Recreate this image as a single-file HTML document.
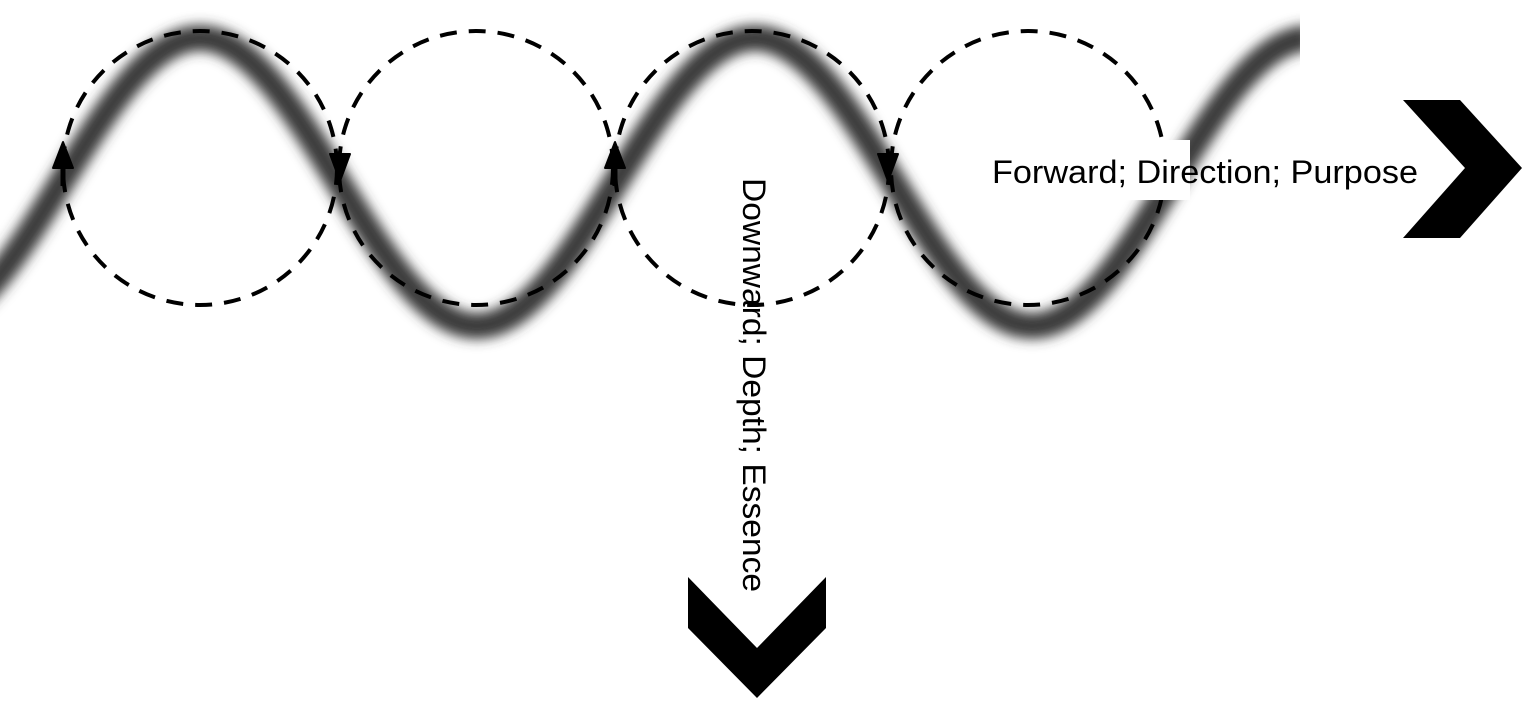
<!DOCTYPE html>
<html><head><meta charset="utf-8"><style>
html,body{margin:0;padding:0;background:#fff;width:1527px;height:702px;overflow:hidden}
</style></head><body>
<svg width="1527" height="702" viewBox="0 0 1527 702" xmlns="http://www.w3.org/2000/svg">
<defs>
<filter id="b" x="-10%" y="-20%" width="120%" height="140%"><feGaussianBlur stdDeviation="6"/></filter>
<clipPath id="c"><rect x="0" y="0" width="1300" height="702"/></clipPath>
</defs>
<rect width="1527" height="702" fill="#fff"/>
<g clip-path="url(#c)">
<path filter="url(#b)" fill="none" stroke="#3a3a3a" stroke-width="26"
d="M-77,326 C23,326 100,38 200,38 C300,38 377,326 477,326 C577,326 655,38 755,38 C855,38 932,326 1032,326 C1132,326 1210,38 1310,38"/>
</g>
<g fill="none" stroke="#000" stroke-width="4" stroke-dasharray="17 12">
<circle cx="200" cy="168" r="137"/>
<circle cx="476" cy="168" r="137"/>
<circle cx="752" cy="168" r="137"/>
<circle cx="1028" cy="168" r="137"/>
</g>
<g fill="#000" stroke="#000" stroke-linejoin="round" stroke-width="2">
<polygon points="63,142 53,168 73,168"/>
<polygon points="330,154 350,154 340,181"/>
<polygon points="615,142 605,168 625,168"/>
<polygon points="878,154 898,154 888,181"/>
</g>
<g stroke="#000" stroke-width="5">
<line x1="63" y1="166" x2="63" y2="186"/>
<line x1="615" y1="166" x2="615" y2="186"/>
</g>
<rect x="975" y="140" width="215" height="60" fill="#fff"/>
<text x="992" y="183" font-family="Liberation Sans, sans-serif" font-size="32" textLength="426" lengthAdjust="spacingAndGlyphs" fill="#000">Forward; Direction; Purpose</text>
<text transform="translate(743,178) rotate(90)" x="0" y="0" font-family="Liberation Sans, sans-serif" font-size="32" textLength="414" lengthAdjust="spacingAndGlyphs" fill="#000">Downward; Depth; Essence</text>
<polygon fill="#000" points="1403,100 1460,100 1522,168 1460,238 1403,238 1465,168"/>
<polygon fill="#000" points="688,577 688,628 757,698 826,628 826,577 757,648"/>
</svg>
</body></html>
